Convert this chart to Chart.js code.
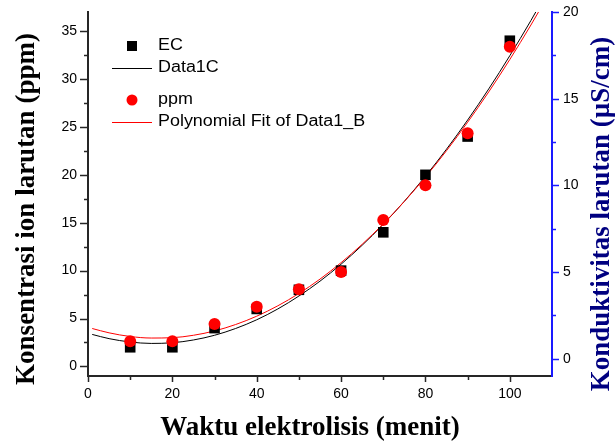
<!DOCTYPE html>
<html>
<head>
<meta charset="utf-8">
<script src="https://cdn.jsdelivr.net/npm/chart.js"></script>
<style>
  html, body { margin: 0; padding: 0; background: #fff; }
  canvas { display: block; }
</style>
</head>
<body>
<canvas id="elektrolisisChart" width="616" height="444"></canvas>
<script>
// measured values (minutes)
const minutes = [10, 20, 30, 40, 50, 60, 70, 80, 90, 100];
const ecValues = [2, 2, 4, 6, 8, 10, 14, 20, 24, 34];          // left axis
const ppmValues = [1, 1, 2, 3, 4, 5, 8, 10, 13, 18];           // right axis

// fitted curves
const fitMinutes = [1, 5, 10, 15, 20, 25, 30, 35, 40, 45, 50, 55, 60, 65, 70, 75, 80, 85, 90, 95, 100, 105, 110];
const data1cFit = [3.34, 2.90, 2.55, 2.40, 2.47, 2.76, 3.25, 3.96, 4.87, 6.00, 7.35, 8.90, 10.67, 12.65, 14.84, 17.24, 19.86, 22.68, 25.72, 28.97, 32.44, 36.11, 40.00];
const polyFitB = [1.74, 1.49, 1.28, 1.19, 1.21, 1.35, 1.60, 1.97, 2.45, 3.05, 3.76, 4.59, 5.54, 6.60, 7.78, 9.07, 10.48, 12.00, 13.64, 15.39, 17.26, 19.25, 21.35];

// ticks
const xMajor = [0, 20, 40, 60, 80, 100];
const xMinor = [10, 30, 50, 70, 90];
const leftMajor = [0, 5, 10, 15, 20, 25, 30, 35];
const leftMinor = [2.5, 7.5, 12.5, 17.5, 22.5, 27.5, 32.5];
const rightMajor = [0, 5, 10, 15, 20];
const rightMinor = [2.5, 7.5, 12.5, 17.5];

const xTitle = "Waktu elektrolisis (menit)";
const leftTitle = "Konsentrasi ion larutan (ppm)";
const rightTitle = "Konduktivitas larutan (\u00b5S/cm)";

const tickFont = { family: "'Liberation Sans', Arial, sans-serif", size: 14 };
const axisColor = "#262626";
const blue = "#1a1aff";

function pairs(xs, ys) {
    return xs.map((x, i) => ({ x: x, y: ys[i] }));
}

function setTicks(values) {
    return scale => { scale.ticks = values.map(v => ({ value: v })); };
}

// fixed axis box sizes, no extra label padding
function fixSize(key, size) {
    return scale => {
        scale[key] = size;
        scale.paddingTop = 0;
        scale.paddingBottom = 0;
        scale.paddingLeft = 0;
        scale.paddingRight = 0;
    };
}

// major / minor tick marks, pointing outwards
const tickMarks = {
    id: "tickMarks",
    afterDraw(chart) {
        const ctx = chart.ctx;
        const marks = [
            ["x", xMajor, 6, axisColor], ["x", xMinor, 4, axisColor],
            ["yLeft", leftMajor, 8, axisColor], ["yLeft", leftMinor, 4, axisColor],
            ["yRight", rightMajor, 7, blue], ["yRight", rightMinor, 4, blue]
        ];
        ctx.save();
        ctx.lineWidth = 1.5;
        marks.forEach(([id, values, len, color]) => {
            const scale = chart.scales[id];
            ctx.strokeStyle = color;
            values.forEach(v => {
                const p = Math.round(scale.getPixelForValue(v)) + 0.5;
                ctx.beginPath();
                if (scale.position === "left") {
                    ctx.moveTo(scale.right, p); ctx.lineTo(scale.right - len, p);
                } else if (scale.position === "right") {
                    ctx.moveTo(scale.left, p); ctx.lineTo(scale.left + len, p);
                } else {
                    ctx.moveTo(p, scale.top); ctx.lineTo(p, scale.top + len);
                }
                ctx.stroke();
            });
        });
        ctx.restore();
    }
};

// axis titles (right one reads bottom-to-top like the left)
const axisTitles = {
    id: "axisTitles",
    afterDraw(chart) {
        const ctx = chart.ctx;
        ctx.save();
        ctx.font = "bold 27px 'Liberation Serif', 'Times New Roman', serif";
        ctx.textAlign = "center";
        ctx.textBaseline = "middle";
        ctx.fillStyle = "#000";
        ctx.fillText(xTitle, 310, 428);

        ctx.save();
        ctx.translate(27, 209);
        ctx.rotate(-Math.PI / 2);
        ctx.fillText(leftTitle, 0, 0);
        ctx.restore();

        ctx.save();
        ctx.translate(602, 214);
        ctx.rotate(-Math.PI / 2);
        ctx.fillStyle = "#000080";
        ctx.fillText(rightTitle, 0, 0);
        ctx.restore();
        ctx.restore();
    }
};

// Origin-style legend box in the upper left of the plot
const insetLegend = {
    id: "insetLegend",
    afterDraw(chart) {
        const ctx = chart.ctx;
        const left = chart.chartArea.left;
        const rowsY = [46, 68, 100, 122];
        const symX = left + 44;
        const textX = left + 70;
        ctx.save();
        ctx.font = "16px 'Liberation Sans', Arial, sans-serif";
        ctx.textBaseline = "middle";
        chart.data.datasets.forEach((ds, i) => {
            const y = rowsY[i];
            if (ds.showLine) {
                ctx.strokeStyle = ds.borderColor;
                ctx.lineWidth = 1;
                ctx.beginPath();
                ctx.moveTo(symX - 20, y + 0.5);
                ctx.lineTo(symX + 20, y + 0.5);
                ctx.stroke();
            } else if (ds.pointStyle === "rect") {
                ctx.fillStyle = ds.pointBackgroundColor;
                ctx.fillRect(symX - 5, y - 5, 10, 10);
            } else {
                ctx.fillStyle = ds.pointBackgroundColor;
                ctx.beginPath();
                ctx.arc(symX, y, 5.5, 0, Math.PI * 2);
                ctx.fill();
            }
            ctx.fillStyle = "#000";
            ctx.save();
            ctx.translate(textX, y);
            ctx.scale(1.12, 1);
            ctx.fillText(ds.label, 0, 0);
            ctx.restore();
        });
        ctx.restore();
    }
};

const ctx = document.getElementById("elektrolisisChart").getContext("2d");
new Chart(ctx, {
    type: "scatter",
    data: {
        datasets: [
            {
                label: "EC",
                data: pairs(minutes, ecValues),
                yAxisID: "yLeft",
                showLine: false,
                pointStyle: "rect",
                pointRadius: 7.5,
                pointBorderWidth: 0,
                pointBackgroundColor: "#000",
                borderColor: "#000",
                order: 1
            },
            {
                label: "Data1C",
                data: pairs(fitMinutes, data1cFit),
                yAxisID: "yLeft",
                showLine: true,
                pointRadius: 0,
                borderColor: "#000",
                borderWidth: 1,
                cubicInterpolationMode: "monotone",
                order: 3
            },
            {
                label: "ppm",
                data: pairs(minutes, ppmValues),
                yAxisID: "yRight",
                showLine: false,
                pointStyle: "circle",
                pointRadius: 6,
                pointBorderWidth: 0,
                pointBackgroundColor: "#ff0000",
                borderColor: "#ff0000",
                order: 0
            },
            {
                label: "Polynomial Fit of Data1_B",
                data: pairs(fitMinutes, polyFitB),
                yAxisID: "yRight",
                showLine: true,
                pointRadius: 0,
                borderColor: "#ff0000",
                borderWidth: 1,
                cubicInterpolationMode: "monotone",
                order: 2
            }
        ]
    },
    options: {
        responsive: false,
        animation: false,
        events: [],
        layout: { autoPadding: false, padding: { top: 12, left: 0, right: 0, bottom: 0 } },
        plugins: {
            legend: { display: false },
            tooltip: { enabled: false },
            title: { display: false }
        },
        scales: {
            x: {
                type: "linear",
                position: "bottom",
                min: 0,
                max: 110,
                afterBuildTicks: setTicks(xMajor),
                afterFit: fixSize("height", 68),
                grid: { display: false, drawTicks: false },
                border: { display: true, color: axisColor, width: 2 },
                ticks: { color: "#000", font: tickFont, padding: 10, maxRotation: 0 }
            },
            yLeft: {
                type: "linear",
                position: "left",
                min: -1,
                max: 37,
                afterBuildTicks: setTicks(leftMajor),
                afterFit: fixSize("width", 88),
                grid: { display: false, drawTicks: false },
                border: { display: true, color: axisColor, width: 2 },
                ticks: { color: "#000", font: tickFont, padding: 11 }
            },
            yRight: {
                type: "linear",
                position: "right",
                min: -1,
                max: 20,
                afterBuildTicks: setTicks(rightMajor),
                afterFit: fixSize("width", 64),
                grid: { display: false, drawTicks: false },
                border: { display: true, color: blue, width: 2 },
                ticks: { color: "#000", font: tickFont, padding: 11 }
            }
        }
    },
    plugins: [tickMarks, axisTitles, insetLegend]
});
</script>
</body>
</html>
